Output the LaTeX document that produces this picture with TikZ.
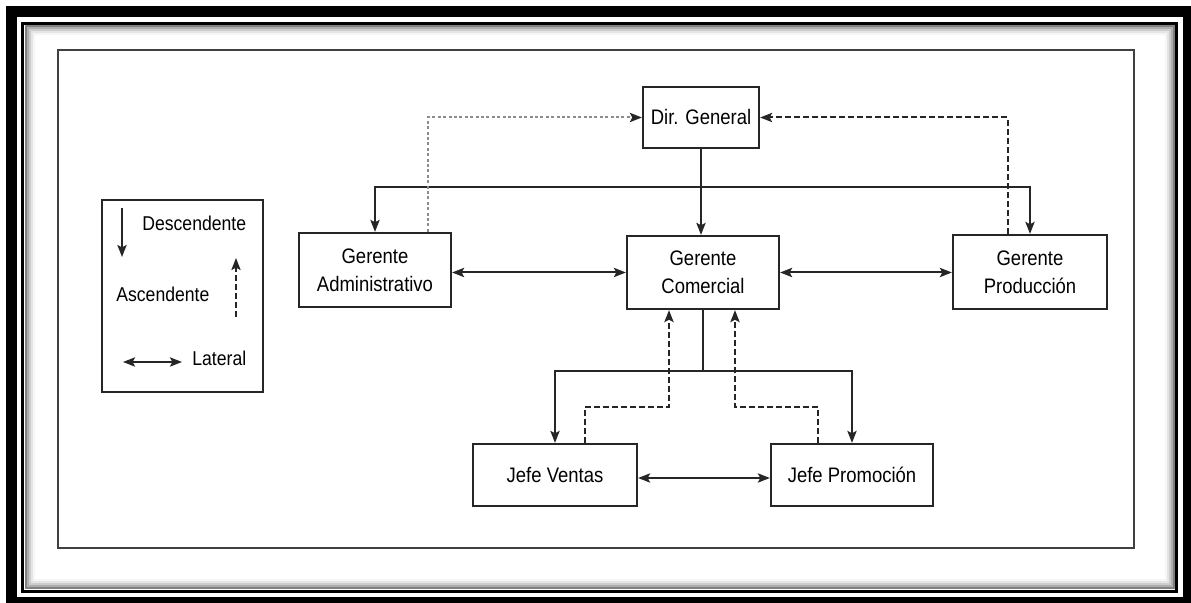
\documentclass[tikz,border=0pt]{standalone}
\usepackage{fontspec}
\setmainfont{Liberation Sans}[FakeStretch=0.88]
\usepackage{xcolor}
\usetikzlibrary{arrows.meta,positioning}

\begin{document}
\begin{tikzpicture}[
    x=0.5pt, y=-0.5pt,
    >={Stealth[length=6pt,width=4.6pt,inset=1.2pt]},
    box/.style={rectangle, draw=black!85, line width=1.1pt, align=center, inner sep=0pt, font=\fontsize{10.5}{14}\selectfont},
    legtext/.style={inner sep=0pt, anchor=west, font=\fontsize{10}{12}\selectfont},
    arrow/.style={->, line width=1pt, draw=black!85},
    lateral/.style={<->, line width=1pt, draw=black!85},
    upline/.style={->, line width=1pt, draw=black!85, dash pattern=on 3pt off 1.5pt},
    dotline/.style={-{Stealth[length=6pt,width=4.6pt,inset=1.2pt,black!85]}, line width=1pt, draw=black!45, dash pattern=on 1.5pt off 1.2pt}
]

% Frame
\useasboundingbox (0,0) rectangle (1191,603);
\draw[line width=5.5pt] (11.5,12) rectangle (1188.5,602.5);
\draw[line width=1.5pt] (22.5,23.5) rectangle (1176.5,591.5);
\foreach \d/\c in {3/50,5/32,7/20,9/10,11/4}
    \draw[black!\c, line width=1pt] (22.5+\d,23.5+\d) rectangle (1176.5-\d,591.5-\d);
\draw[black!75, line width=1.1pt] (58,50) rectangle (1134,548);

% Legend
\node[box, minimum width=80.5pt, minimum height=96pt] (legend) at (182.5,296) {};
\coordinate (descA) at (122,208);
\coordinate (descB) at (122,257);
\draw[arrow] (descA) -- (descB);
\node[legtext] (ldesc) at (142,223) {Descendente};
\node[legtext] (lasc) at (116,294) {Ascendente};
\coordinate (ascA) at (236,317);
\coordinate (ascB) at (236,258);
\draw[upline] (ascA) -- (ascB);
\coordinate (latA) at (123,362);
\coordinate (latB) at (182,362);
\draw[lateral] (latA) -- (latB);
\node[legtext] (llat) at (192,358) {Lateral};

% Director
\node[box, minimum width=58pt, minimum height=30.5pt] (dir) at (701,117.5) {Dir. General};

% Managers
\node[box, minimum width=76pt, minimum height=37pt] (adm) at (375,270) {Gerente\\Administrativo};
\node[box, minimum width=76pt, minimum height=36.5pt] (com) at (703,272.5) {Gerente\\Comercial};
\node[box, minimum width=77pt, minimum height=37pt] (prod) at (1030,272) {Gerente\\Producción};

% Heads
\node[box, minimum width=82pt, minimum height=31pt] (ventas) at (555,475) {Jefe Ventas};
\node[box, minimum width=81pt, minimum height=31pt] (promo) at (852,475) {Jefe Promoción};

% Downward
\coordinate (bus1) at (701,187);
\coordinate (bus2) at (703,371);
\draw[arrow] (dir.south) -- (dir.south |- com.north);
\draw[arrow] (bus1) -| (adm.north);
\draw[arrow] (bus1) -| (prod.north);
\draw[line width=1pt, black!85] (com.south) -- (bus2);
\draw[arrow] (bus2) -| (ventas.north);
\draw[arrow] (bus2) -| (promo.north);

% Upward
\draw[dotline] ([xshift=26.5pt]adm.north) |- (dir.west);
\draw[upline] ([xshift=-11pt]prod.north) |- (dir.east);
\draw[upline] ([xshift=15pt]ventas.north) -- ++(0,-36) -| ([xshift=-17pt]com.south);
\draw[upline] ([xshift=-17pt]promo.north) -- ++(0,-36) -| ([xshift=16pt]com.south);

% Lateral
\draw[lateral] (com.west -| adm.east) -- (com.west);
\draw[lateral] (com.east) -- (com.east -| prod.west);
\draw[lateral] ([yshift=-1.5pt]ventas.east) -- ([yshift=-1.5pt]promo.west);

\end{tikzpicture}
\end{document}
